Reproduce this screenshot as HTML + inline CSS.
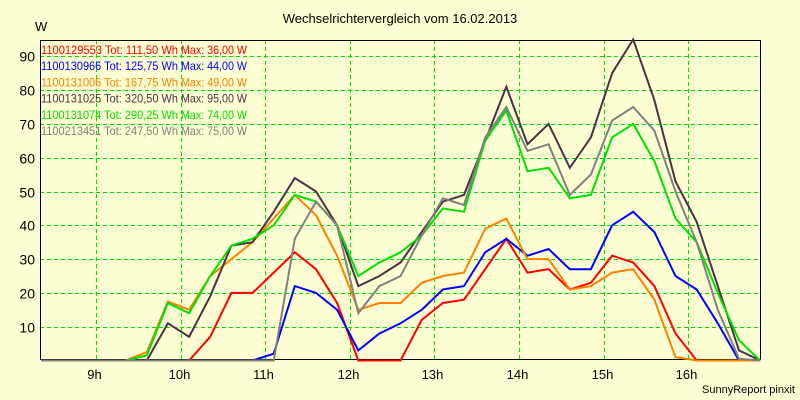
<!DOCTYPE html>
<html><head><meta charset="utf-8">
<style>
html,body{margin:0;padding:0;background:#ffffd4;}
svg{display:block;font-family:"Liberation Sans",sans-serif;}
</style></head>
<body>
<svg id="chart" width="800" height="400" viewBox="0 0 800 400" xmlns="http://www.w3.org/2000/svg">
<rect x="0" y="0" width="800" height="400" fill="#ffffd4"/>
<text x="400" y="23" font-size="13" text-anchor="middle" fill="#000">Wechselrichtervergleich vom 16.02.2013</text>
<text x="35" y="31" font-size="13" fill="#000">W</text>
<text x="795" y="393" font-size="11" text-anchor="end" fill="#000">SunnyReport pinxit</text>
<g id="grid"></g>
<g id="axes"></g>
<g id="series"></g>
<g id="legend"></g>
</svg>
<script>
const names = ["1100129553","1100130966","1100131006","1100131025","1100131074","1100213451"];
const totals = ["111,50","125,75","167,75","320,50","290,25","247,50"];
const maxima = ["36,00","44,00","49,00","95,00","74,00","75,00"];
const colors = ["#ff0000","#0000ff","#ff8000","#4b3048","#00e000","#808080"];
const yTicks = [10,20,30,40,50,60,70,80,90];
const xTicks = [9,10,11,12,13,14,15,16];
const startTime = 8.35, stepTime = 0.25;
const sRed    = [0,0,0,0,0,0,0,0,7,20,20,26,32,27,17,0,0,0,12,17,18,27,36,26,27,21,23,31,29,22,8,0,0,0,0];
const sBlue   = [0,0,0,0,0,0,0,0,0,0,0,2,22,20,15,3,8,11,15,21,22,32,36,31,33,27,27,40,44,38,25,21,11,0,0];
const sOrange = [0,0,0,0,0,2.5,17.5,15,25,30,35,42,49,43,31,15,17,17,23,25,26,39,42,30,30,21,22,26,27,18,1,0,0,0,0];
const sDark   = [0,0,0,0,0,0,11,7,19,34,35,44,54,50,40,22,25,29,38,47,49,65,81,64,70,57,66,85,95,77,53,41,22,3,0];
const sGreen  = [0,0,0,0,0,1.5,17,14,25,34,36,40,49,47,40,25,29,32,37,45,44,65,74,56,57,48,49,66,70,59,42,35,20,6,0];
const sGray   = [0,0,0,0,0,0,0,0,0,0,0,0,36,47,40,14,22,25,37,48,46,66,75,62,64,49,55,71,75,68,50,35,15,0.5,0];
const seriesData = [sRed,sBlue,sOrange,sDark,sGreen,sGray];

const L=40,R=760,T=40,B=359;
const xOf = t => 96 + (t-9)*84.6;
const yOf = v => 360.5 - v*3.38;
const NS="http://www.w3.org/2000/svg";
function mk(tag, attrs, parent){const e=document.createElementNS(NS,tag);for(const k in attrs)e.setAttribute(k,attrs[k]);parent.appendChild(e);return e;}
const grid=document.getElementById('grid'), axes=document.getElementById('axes'), ser=document.getElementById('series'), leg=document.getElementById('legend');

const frame=mk('rect',{x:L+0.5,y:T+0.5,width:R-L,height:B-T,fill:'none',stroke:'#000','stroke-width':1},axes);


yTicks.forEach(v=>{
  const y=Math.round(yOf(v))+0.5;
  const g=mk('line',{x1:L,x2:R,y1:y,y2:y,stroke:'#00dd00','stroke-dasharray':'4,3'},grid);
  
  
  const t=mk('text',{x:35,y:y+5,'font-size':14,'text-anchor':'end',fill:'#000'},axes);
  t.textContent=v;
  
  
});
xTicks.forEach(h=>{
  const x=Math.round(xOf(h))+0.5;
  const g=mk('line',{x1:x,x2:x,y1:T,y2:B,stroke:'#00dd00','stroke-dasharray':'4,3'},grid);
  
  
  const t=mk('text',{x:x-2,y:379,'font-size':13,'text-anchor':'middle',fill:'#000'},axes);
  t.textContent=h+'h';
  
  
});
seriesData.forEach((arr,si)=>{
  const pts=arr.map((v,i)=>xOf(startTime+i*stepTime).toFixed(1)+','+yOf(v).toFixed(1)).join(' ');
  const p=mk('polyline',{points:pts,fill:'none',stroke:colors[si],'stroke-width':2,'stroke-linejoin':'miter'},ser);
  
  
});
mk('line',{x1:L,x2:R,y1:B+0.5,y2:B+0.5,stroke:'#000'},axes);
names.forEach((n,i)=>{
  const y=54+i*16.2;
  const t=mk('text',{x:41,y:y,'font-size':12,fill:colors[i],textLength:137,lengthAdjust:'spacingAndGlyphs'},leg);
  t.textContent=n+' Tot: '+totals[i]+' Wh';
  
  
  const m=mk('text',{x:181,y:y,'font-size':12,fill:colors[i],textLength:66,lengthAdjust:'spacingAndGlyphs'},leg);
  m.textContent='Max: '+maxima[i]+' W';
  
  
});
</script>
</body></html>
